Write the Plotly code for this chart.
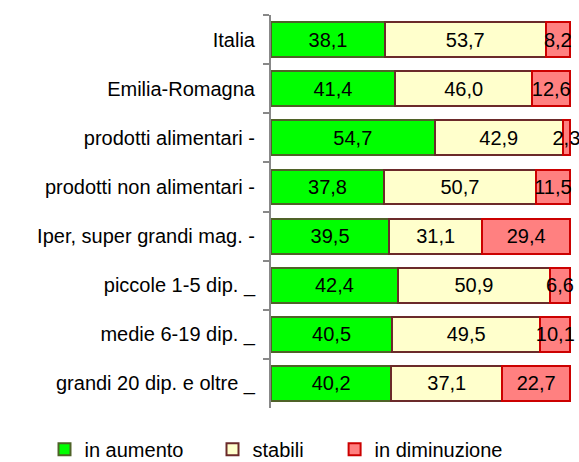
import plotly.graph_objects as go

categories = [
    "Italia",
    "Emilia-Romagna",
    "prodotti alimentari -",
    "prodotti non alimentari -",
    "Iper, super grandi mag. -",
    "piccole 1-5 dip. _",
    "medie 6-19 dip. _",
    "grandi 20 dip. e oltre _",
]
in_aumento = [38.1, 41.4, 54.7, 37.8, 39.5, 42.4, 40.5, 40.2]
stabili = [53.7, 46.0, 42.9, 50.7, 31.1, 50.9, 49.5, 37.1]
in_diminuzione = [8.2, 12.6, 2.3, 11.5, 29.4, 6.6, 10.1, 22.7]

series = [
    ("in aumento", in_aumento, "#00ff00", "#4f6228", "legend"),
    ("stabili", stabili, "#ffffcc", "#6b2a2a", "legend2"),
    ("in diminuzione", in_diminuzione, "#ff8080", "#cc0000", "legend3"),
]

FONT = "Liberation Sans, Arial, sans-serif"
FS = 20

fig = go.Figure()
for name, vals, fill, line, leg in series:
    fig.add_trace(go.Bar(
        y=categories,
        x=vals,
        name=name,
        legend=leg,
        orientation="h",
        marker=dict(color=fill, line=dict(color=line, width=2)),
        text=[f"{v:.1f}".replace(".", ",") for v in vals],
        textposition="inside",
        insidetextanchor="middle",
        constraintext="none",
        textangle=0,
        textfont=dict(family=FONT, size=FS, color="black"),
        cliponaxis=False,
    ))

def legend_at(x):
    return dict(
        orientation="h",
        x=x,
        xanchor="left",
        y=-0.105,
        yanchor="middle",
        font=dict(family=FONT, size=FS, color="black"),
        itemwidth=30,
        bgcolor="rgba(0,0,0,0)",
    )

fig.update_layout(
    barmode="stack",
    bargap=0.29,
    width=579,
    height=462,
    margin=dict(l=271, r=8, t=15, b=54, autoexpand=False),
    paper_bgcolor="white",
    plot_bgcolor="white",
    font=dict(family=FONT, size=FS, color="black"),
    showlegend=True,
    legend=legend_at(-0.755),
    legend2=legend_at(-0.195),
    legend3=legend_at(0.212),
    xaxis=dict(
        range=[0, 100.3],
        visible=False,
        fixedrange=True,
    ),
    yaxis=dict(
        type="category",
        categoryorder="array",
        categoryarray=categories,
        autorange="reversed",
        showline=True,
        linecolor="#888888",
        linewidth=2,
        ticks="outside",
        ticklen=6,
        tickwidth=2,
        tickcolor="#888888",
        tickson="boundaries",
        ticklabelstandoff=10,
        showgrid=False,
        fixedrange=True,
        tickfont=dict(family=FONT, size=FS, color="black"),
    ),
)

fig.write_html(
    "out.html",
    config={"displayModeBar": False},
    post_script="document.body.style.margin='0';document.body.style.overflow='hidden';",
)
